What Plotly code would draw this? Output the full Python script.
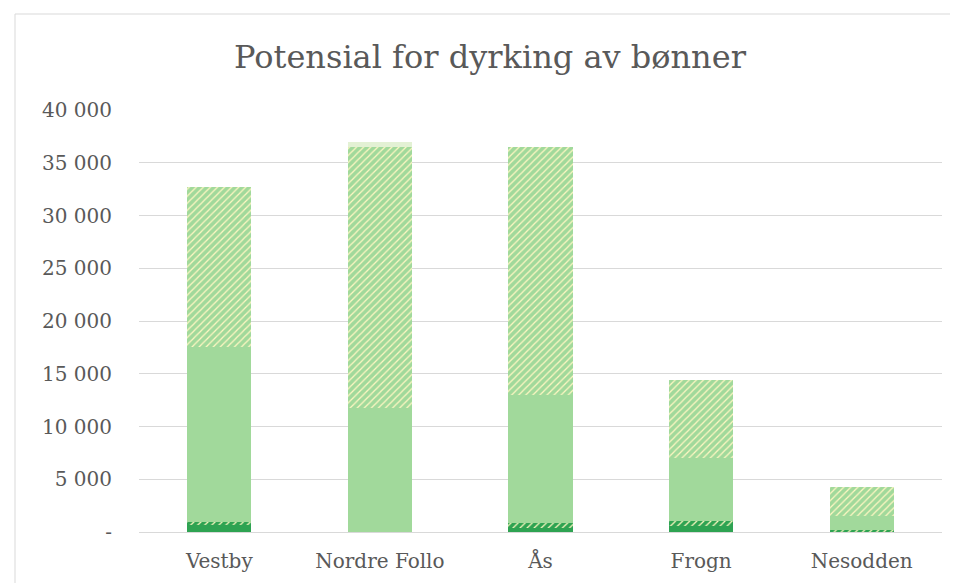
import plotly.graph_objects as go

categories = ["Vestby", "Nordre Follo", "Ås", "Frogn", "Nesodden"]
dark_solid = [700, 0, 400, 570, 0]
dark_hatched = [250, 0, 480, 500, 150]
light_solid = [16550, 11750, 12110, 5940, 1370]
light_hatched = [15200, 24750, 23510, 7390, 2720]
pale_top = [0, 470, 0, 0, 0]

tickvals = [0, 5000, 10000, 15000, 20000, 25000, 30000, 35000, 40000]
ticktext = ["-", "5 000", "10 000", "15 000", "20 000", "25 000", "30 000", "35 000", "40 000"]

DARK = "#2ea352"
LIGHT = "#a1d99b"
PALE = "#fff7c2"
TOPC = "#e3f1d4"
FONT = "DejaVu Serif"

fig = go.Figure()
series = [
    ("Mørk", dark_solid, DARK, None),
    ("Mørk skravert", dark_hatched, DARK, "/"),
    ("Lys", light_solid, LIGHT, None),
    ("Lys skravert", light_hatched, LIGHT, "/"),
    ("Topp", pale_top, TOPC, None),
]
for name, vals, col, pat in series:
    marker = dict(color=col, line=dict(width=0))
    if pat:
        marker["pattern"] = dict(shape=pat, fgcolor=PALE, bgcolor=col, size=5, solidity=0.25, fillmode="replace")
    fig.add_trace(go.Bar(x=categories, y=vals, name=name, marker=marker, showlegend=False))

L, T, R, B = 131, 102, 24, 59
PW, PH = 958 - L - R, 583 - T - B

fig.update_layout(
    barmode="stack",
    bargap=0.6,
    width=958, height=583,
    margin=dict(l=L, r=R, t=T, b=B),
    paper_bgcolor="white", plot_bgcolor="white",
    title=dict(text="Potensial for dyrking av bønner", x=(490 - 8) / 958, xanchor="center",
               y=1 - 49 / 583, yanchor="middle",
               font=dict(family=FONT, size=32, color="#595959")),
    font=dict(family=FONT, size=20, color="#595959"),
    yaxis=dict(range=[0, 40000], tickvals=tickvals, ticktext=ticktext,
               showgrid=True, gridcolor="#d9d9d9", gridwidth=1, zeroline=False,
               showline=False, ticks="", ticklabelstandoff=26,
               tickfont=dict(family=FONT, size=20, color="#595959")),
    xaxis=dict(showline=True, linecolor="#d9d9d9", linewidth=1, ticks="",
               ticklabelstandoff=11,
               tickfont=dict(family=FONT, size=20, color="#595959")),
    shapes=[dict(type="rect", xref="paper", yref="paper",
                 x0=(7 - L) / PW, x1=2, y0=-1, y1=(583 - B - 6) / PH,
                 line=dict(color="#d9d9d9", width=1), fillcolor="rgba(0,0,0,0)", layer="below")],
)

fig.write_html("out.html")
